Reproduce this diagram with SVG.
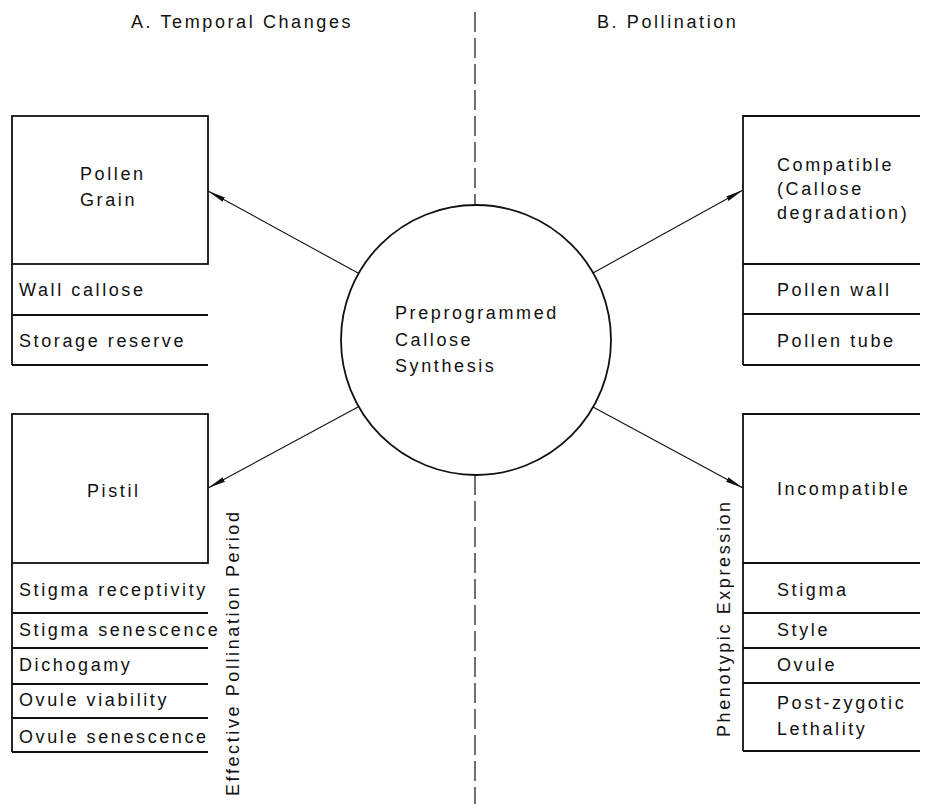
<svg xmlns="http://www.w3.org/2000/svg" width="930" height="804" viewBox="0 0 930 804">
<style>
  text { font-family: "Liberation Sans", Arial, sans-serif; font-size: 18px; letter-spacing: 2.6px; fill: #111; }
  .box { fill: none; stroke: #111; stroke-width: 1.8; }
  .row { fill: none; stroke: #111; stroke-width: 1.8; }
  .conn { stroke: #111; stroke-width: 1.1; fill: none; marker-end: url(#arr); }
  .dash { stroke: #111; stroke-width: 1.2; stroke-dasharray: 20 6; fill: none; }
</style>
<defs>
  <marker id="arr" markerUnits="userSpaceOnUse" markerWidth="20" markerHeight="10" refX="18" refY="4" orient="auto">
    <path d="M0,1.5 L18,4 L0,6.5 Z" fill="#111"/>
  </marker>
</defs>
<rect width="930" height="804" fill="#fff"/>

<g id="headers">
  <text x="131" y="28">A. Temporal Changes</text>
  <text x="597" y="28">B. Pollination</text>
</g>

<g id="divider">
  <line class="dash" x1="475" y1="12" x2="475" y2="205"/>
  <line class="dash" x1="475" y1="475" x2="475" y2="804"/>
</g>

<g id="center">
  <circle cx="476" cy="340" r="135" fill="#fff" stroke="#111" stroke-width="1.8"/>
  <text x="395" y="319">Preprogrammed</text>
  <text x="395" y="346">Callose</text>
  <text x="395" y="372">Synthesis</text>
</g>

<g id="pollen-grain">
  <rect class="box" x="12" y="116" width="196" height="148"/>
  <text x="80" y="180">Pollen</text>
  <text x="80" y="206">Grain</text>
  <path class="row" d="M12,264 V365 M12,315 H208 M12,365 H208"/>
  <text x="19" y="296">Wall callose</text>
  <text x="19" y="347">Storage reserve</text>
</g>

<g id="pistil">
  <rect class="box" x="12" y="414" width="196" height="149"/>
  <text x="87" y="497">Pistil</text>
  <path class="row" d="M12,563 V752 M12,613 H208 M12,648 H208 M12,684 H208 M12,718 H208 M12,752 H208"/>
  <text x="19" y="596">Stigma receptivity</text>
  <text x="19" y="636">Stigma senescence</text>
  <text x="19" y="671">Dichogamy</text>
  <text x="19" y="706">Ovule viability</text>
  <text x="19" y="743">Ovule senescence</text>
  <text transform="translate(239,796) rotate(-90)">Effective Pollination Period</text>
</g>

<g id="compatible">
  <path class="box" d="M920,116 H743 V365 M743,264 H920"/>
  <text x="777" y="171">Compatible</text>
  <text x="777" y="195">(Callose</text>
  <text x="777" y="219">degradation)</text>
  <path class="row" d="M743,314 H920 M743,365 H920"/>
  <text x="777" y="296">Pollen wall</text>
  <text x="777" y="347">Pollen tube</text>
</g>

<g id="incompatible">
  <path class="box" d="M920,414 H743 V751 M743,563 H920"/>
  <text x="777" y="495">Incompatible</text>
  <path class="row" d="M743,613 H920 M743,648 H920 M743,683 H920 M743,751 H920"/>
  <text x="777" y="596">Stigma</text>
  <text x="777" y="636">Style</text>
  <text x="777" y="671">Ovule</text>
  <text x="777" y="709">Post-zygotic</text>
  <text x="777" y="735">Lethality</text>
  <text transform="translate(730,737) rotate(-90)">Phenotypic Expression</text>
</g>

<g id="connectors">
  <line class="conn" x1="358" y1="273" x2="208" y2="191"/>
  <line class="conn" x1="358" y1="407" x2="208" y2="488"/>
  <line class="conn" x1="593" y1="273" x2="743" y2="190"/>
  <line class="conn" x1="593" y1="407" x2="743" y2="488"/>
</g>
</svg>
